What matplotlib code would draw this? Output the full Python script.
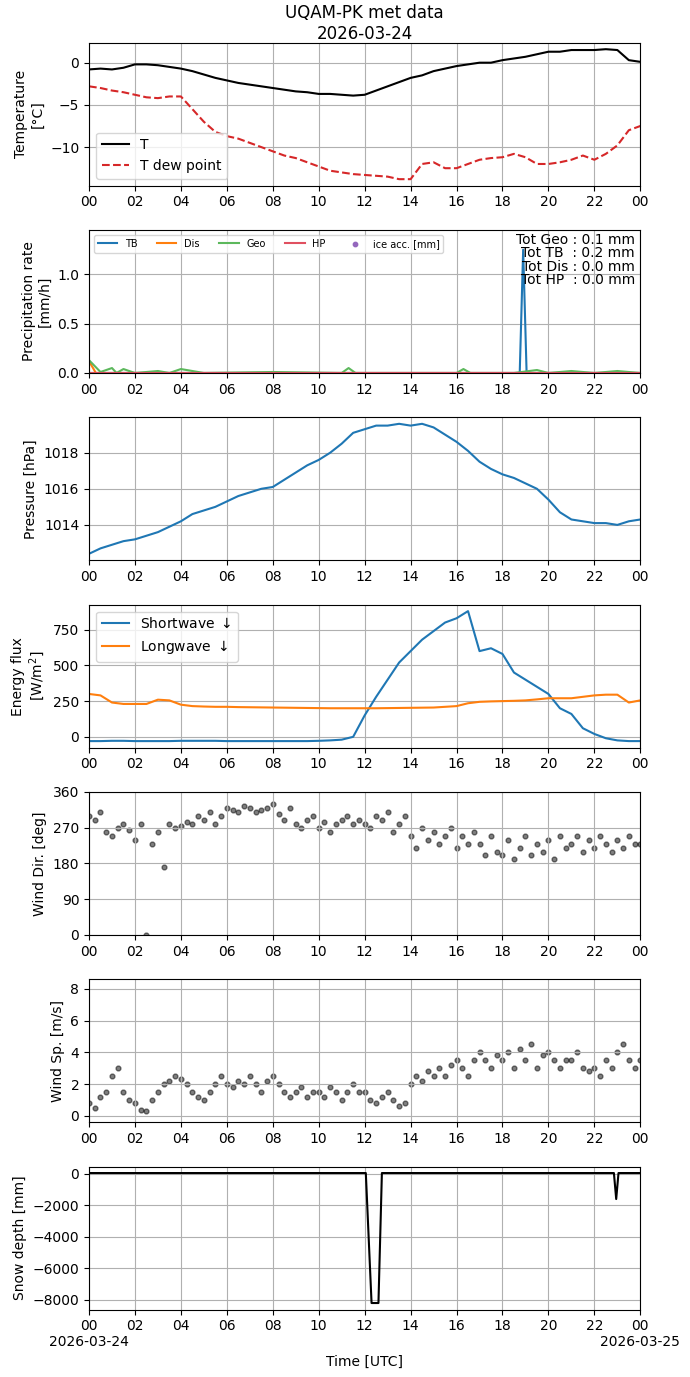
import numpy as np
import matplotlib
matplotlib.use('Agg')
import matplotlib.pyplot as plt
import matplotlib.dates as mdates
from datetime import datetime, timedelta

start = datetime(2026, 3, 24)

# half-hourly temperature values
temp = [-0.8, -0.7, -0.8, -0.6, -0.2, -0.2, -0.3, -0.5, -0.7, -1.0, -1.4, -1.8, -2.1, -2.4, -2.6, -2.8,
        -3.0, -3.2, -3.4, -3.5, -3.7, -3.7, -3.8, -3.9, -3.8, -3.3, -2.8, -2.3, -1.8, -1.5, -1.0, -0.7,
        -0.4, -0.2, 0.0, 0.0, 0.3, 0.5, 0.7, 1.0, 1.3, 1.3, 1.5, 1.5, 1.5, 1.6, 1.5, 0.3, 0.1]
dewpoint = [-2.8, -3.0, -3.3, -3.5, -3.8, -4.1, -4.2, -4.0, -4.0, -5.5, -7.0, -8.2, -8.7, -9.0, -9.5, -10.0,
            -10.5, -11.0, -11.3, -11.8, -12.3, -12.8, -13.0, -13.2, -13.3, -13.4, -13.5, -13.8, -13.8, -12.0,
            -11.8, -12.5, -12.5, -12.0, -11.5, -11.3, -11.2, -10.8, -11.2, -12.0, -12.0, -11.8, -11.5, -11.0,
            -11.5, -10.8, -9.8, -8.0, -7.5]

# precipitation
tb_hours = [0, 18.75, 18.9, 19.05, 24]
tb_rate = [0, 0, 1.25, 0, 0]
dis_hours = [0, 0.3, 24]
dis_rate = [0.12, 0.0, 0.0]
geo_hours = [0, 0.5, 1.0, 1.2, 1.5, 2.0, 3.0, 3.5, 4.0, 5.0, 8.0, 11.0, 11.3, 11.6, 16.0, 16.3, 16.6,
             18.5, 19.5, 20.0, 21.0, 22.0, 23.0, 24.0]
geo_rate = [0.13, 0.01, 0.05, 0.0, 0.04, 0.0, 0.02, 0.0, 0.04, 0.0, 0.01, 0.0, 0.05, 0.0, 0.0, 0.04,
            0.0, 0.0, 0.03, 0.0, 0.02, 0.0, 0.02, 0.0]
hp_hours = [0, 24]
hp_rate = [0, 0]

pressure = [1012.4, 1012.7, 1012.9, 1013.1, 1013.2, 1013.4, 1013.6, 1013.9, 1014.2, 1014.6, 1014.8, 1015.0,
            1015.3, 1015.6, 1015.8, 1016.0, 1016.1, 1016.5, 1016.9, 1017.3, 1017.6, 1018.0, 1018.5, 1019.1,
            1019.3, 1019.5, 1019.5, 1019.6, 1019.5, 1019.6, 1019.4, 1019.0, 1018.6, 1018.1, 1017.5, 1017.1,
            1016.8, 1016.6, 1016.3, 1016.0, 1015.4, 1014.7, 1014.3, 1014.2, 1014.1, 1014.1, 1014.0, 1014.2,
            1014.3]

shortwave = [-30, -30, -28, -28, -30, -30, -30, -30, -28, -28, -28, -28, -30, -30, -30, -30,
             -30, -30, -30, -30, -28, -25, -20, 0, 150, 280, 400, 520, 600, 680, 740, 800,
             830, 880, 600, 620, 580, 450, 400, 350, 300, 200, 160, 60, 20, -10, -25, -30, -30]
longwave = [300, 290, 240, 230, 230, 230, 260, 255, 225, 215, 212, 210, 210, 208, 207, 206,
            205, 204, 203, 202, 201, 200, 200, 200, 200, 200, 201, 202, 203, 204, 205, 210,
            215, 235, 245, 248, 250, 252, 255, 262, 270, 270, 270, 280, 290, 295, 295, 240, 255]

# 15-minute wind samples
wind_dir = [300, 290, 310, 260, 250, 270, 280, 265, 240, 280, 0, 230, 260, 170, 280, 270,
            275, 285, 280, 300, 290, 310, 280, 300, 320, 315, 310, 325, 320, 310, 315, 320,
            330, 305, 290, 320, 280, 270, 290, 300, 270, 285, 260, 280, 290, 300, 280, 290,
            280, 270, 300, 290, 310, 260, 280, 300, 250, 220, 270, 240, 260, 230, 250, 270,
            220, 250, 230, 260, 230, 200, 250, 210, 200, 240, 190, 220, 250, 200, 230, 210,
            240, 190, 250, 220, 230, 250, 210, 240, 220, 250, 230, 210, 240, 220, 250, 230, 230]
wind_sp = [0.8, 0.5, 1.2, 1.5, 2.5, 3.0, 1.5, 1.0, 0.8, 0.4, 0.3, 1.0, 1.5, 2.0, 2.2, 2.5,
           2.3, 2.0, 1.5, 1.2, 1.0, 1.5, 2.0, 2.5, 2.0, 1.8, 2.2, 2.0, 2.5, 2.0, 1.5, 2.2,
           2.5, 2.0, 1.5, 1.2, 1.5, 1.8, 1.2, 1.5, 1.5, 1.2, 1.8, 1.5, 1.0, 1.5, 2.0, 1.5,
           1.5, 1.0, 0.8, 1.2, 1.5, 1.0, 0.6, 0.8, 2.0, 2.5, 2.2, 2.8, 2.5, 3.0, 2.5, 3.2,
           3.5, 3.0, 2.5, 3.5, 4.0, 3.5, 3.0, 3.8, 3.5, 4.0, 3.0, 4.2, 3.5, 4.5, 3.0, 3.8,
           4.0, 3.5, 3.0, 3.5, 3.5, 4.0, 3.0, 2.8, 3.0, 2.5, 3.5, 3.0, 4.0, 4.5, 3.5, 3.0, 3.5]

snow_hours = [0, 12.05, 12.3, 12.6, 12.75, 22.85, 22.95, 23.05, 24]
snow_depth = [50, 50, -8200, -8200, 50, 50, -1600, 50, 50]


def times(n):
    return [start + timedelta(hours=h) for h in np.linspace(0, 24, n)]


def hrs(lst):
    return [start + timedelta(hours=h) for h in lst]


fig, axs = plt.subplots(7, 1, figsize=(6.9, 13.77), dpi=100)
fig.subplots_adjust(left=0.129, right=0.928, top=0.969, bottom=0.049, hspace=0.31)

ax = axs[0]
ax.plot(times(len(temp)), temp, color='black', label='T')
ax.plot(times(len(dewpoint)), dewpoint, color='tab:red', ls='--', label='T dew point')
ax.set_ylabel('Temperature\n[°C]')
ax.set_title('UQAM-PK met data\n2026-03-24', pad=3)
ax.legend(loc='lower left')

ax = axs[1]
ax.plot(hrs(tb_hours), tb_rate, label='TB')
ax.plot(hrs(dis_hours), dis_rate, label='Dis')
ax.plot(hrs(geo_hours), geo_rate, color='#5cb85c', label='Geo')
ax.plot(hrs(hp_hours), hp_rate, color='#e05060', label='HP')
ax.scatter([], [], s=10, color='tab:purple', label='ice acc. [mm]')
ax.set_ylim(0, 1.45)
ax.set_ylabel('Precipitation rate\n[mm/h]')
ax.legend(loc='upper left', ncol=5, fontsize=7)
ax.text(0.99, 0.98, 'Tot Geo : 0.1 mm\nTot TB  : 0.2 mm\nTot Dis : 0.0 mm\nTot HP  : 0.0 mm',
        transform=ax.transAxes, ha='right', va='top', linespacing=0.95)

ax = axs[2]
ax.plot(times(len(pressure)), pressure)
ax.set_ylabel('Pressure [hPa]')

ax = axs[3]
ax.plot(times(len(shortwave)), shortwave, label='Shortwave $\\downarrow$')
ax.plot(times(len(longwave)), longwave, label='Longwave $\\downarrow$')
ax.set_yticks([0, 250, 500, 750])
ax.set_ylabel('Energy flux\n[W/m$^2$]')
ax.legend(loc='upper left')

ax = axs[4]
ax.scatter(times(len(wind_dir)), wind_dir, s=12, color='black', alpha=0.5)
ax.set_ylim(0, 360)
ax.set_yticks([0, 90, 180, 270, 360])
ax.set_ylabel('Wind Dir. [deg]')

ax = axs[5]
ax.scatter(times(len(wind_sp)), wind_sp, s=12, color='black', alpha=0.5)
ax.set_ylim(-0.4, 8.6)
ax.set_ylabel('Wind Sp. [m/s]')

ax = axs[6]
ax.plot(hrs(snow_hours), snow_depth, color='black')
ax.set_ylabel('Snow depth [mm]')
ax.set_xlabel('Time [UTC]')

for ax in axs:
    ax.set_xlim(start, start + timedelta(hours=24))
    ax.xaxis.set_major_locator(mdates.HourLocator(byhour=range(0, 24, 2)))
    ax.xaxis.set_major_formatter(mdates.DateFormatter('%H'))
    ax.grid(True)

labels = ['%02d' % (h % 24) for h in range(0, 25, 2)]
labels[0] = '00\n2026-03-24'
labels[-1] = '00\n2026-03-25'
axs[6].set_xticks(hrs(range(0, 25, 2)))
axs[6].set_xticklabels(labels)

fig.savefig('out.png')
